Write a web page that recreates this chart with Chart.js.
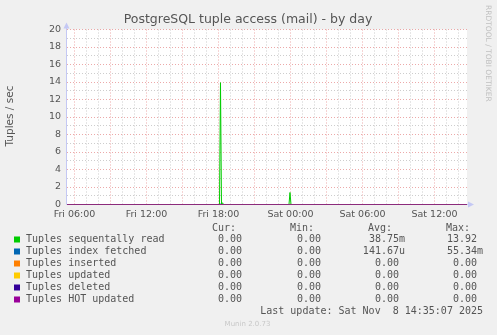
<!DOCTYPE html>
<html>
<head>
<meta charset="utf-8">
<script src="https://cdn.jsdelivr.net/npm/chart.js@4/dist/chart.umd.min.js"></script>
<style>
  html, body { margin: 0; padding: 0; background: #f0f0f0; }
</style>
</head>
<body>
<canvas id="myChart" width="497" height="335"></canvas>
<script>
// time is in hours counted from Fri 00:00
var xStart = 5.375;
var xEnd = 38.71;

var seriesNames = ["Tuples sequentally read", "Tuples index fetched", "Tuples inserted",
                   "Tuples updated", "Tuples deleted", "Tuples HOT updated"];
var seriesColors = ["#00cc00", "#0066b3", "#ff8000", "#ffcc00", "#330099", "#990099"];

var seqReadHours  = [5.375, 18.083, 18.167, 18.25, 18.333, 18.417, 23.875, 23.958, 24.042, 38.71];
var seqReadValues = [0,     0,      13.92,  0,     0.2,    0,      0,      1.37,   0,      0];

var idxFetchHours  = [5.375, 18.083, 18.167, 18.25, 38.71];
var idxFetchValues = [0,     0,      0.0553, 0,     0];

var zeroHours  = [5.375, 38.71];
var zeroValues = [0, 0];

var curCol = ["0.00", "0.00", "0.00", "0.00", "0.00", "0.00"];
var minCol = ["0.00", "0.00", "0.00", "0.00", "0.00", "0.00"];
var avgCol = ["38.75m", "141.67u", "0.00 ", "0.00 ", "0.00 ", "0.00 "];
var maxCol = ["13.92 ", "55.34m", "0.00 ", "0.00 ", "0.00 ", "0.00 "];

var yTicks = [0, 2, 4, 6, 8, 10, 12, 14, 16, 18, 20];

function pts(hours, values) {
  var out = [];
  for (var i = 0; i < hours.length; i++) out.push({x: hours[i], y: values[i]});
  return out;
}

var seriesData = [
  pts(seqReadHours, seqReadValues),
  pts(idxFetchHours, idxFetchValues),
  pts(zeroHours, zeroValues),
  pts(zeroHours, zeroValues),
  pts(zeroHours, zeroValues),
  pts(zeroHours, zeroValues)
];

var datasets = [];
for (var i = 0; i < seriesNames.length; i++) {
  datasets.push({
    label: seriesNames[i],
    data: seriesData[i],
    borderColor: seriesColors[i],
    backgroundColor: seriesColors[i],
    borderWidth: 1,
    pointRadius: 0,
    fill: false,
    order: seriesNames.length - i
  });
}

var majorGrid = "rgba(230,140,140,0.75)";
var minorGrid = "rgba(200,200,200,0.9)";
var axisColor = "#c4c8f4";

function hourLabel(h) {
  var day = h < 24 ? "Fri" : "Sat";
  var hh = h % 24;
  return day + " " + (hh < 10 ? "0" : "") + hh + ":00";
}

var munin = {
  id: "munin",
  beforeDraw: function(chart) {
    var c = chart.ctx, a = chart.chartArea;
    c.save();
    c.fillStyle = "#f0f0f0";
    c.fillRect(0, 0, chart.width, chart.height);
    c.fillStyle = "#ffffff";
    c.fillRect(a.left, a.top, a.right - a.left, a.bottom - a.top);
    c.restore();
  },
  beforeDatasetsDraw: function(chart) {
    var c = chart.ctx, a = chart.chartArea;
    var x0 = Math.round(a.left) - 0.5, y0 = Math.round(a.bottom) - 0.5;
    c.save();
    c.strokeStyle = axisColor;
    c.fillStyle = axisColor;
    c.lineWidth = 1;
    c.beginPath();
    c.moveTo(x0, y0); c.lineTo(x0, a.top - 2);
    c.moveTo(x0, y0); c.lineTo(a.right + 2, y0);
    c.stroke();
    // arrows
    c.beginPath();
    c.moveTo(x0 - 3, a.top - 1); c.lineTo(x0 + 3, a.top - 1); c.lineTo(x0, a.top - 7); c.closePath();
    c.fill();
    c.beginPath();
    c.moveTo(a.right + 1, y0 - 3); c.lineTo(a.right + 1, y0 + 3); c.lineTo(a.right + 7, y0); c.closePath();
    c.fill();
    c.restore();
  },
  afterDraw: function(chart) {
    var c = chart.ctx;
    c.save();
    c.textBaseline = "middle";
    // title
    c.fillStyle = "#555555";
    c.font = "12.5px 'DejaVu Sans'";
    c.textAlign = "center";
    c.fillText("PostgreSQL tuple access (mail) - by day", 248, 20);
    // y axis title
    c.save();
    c.translate(10, 116);
    c.rotate(-Math.PI / 2);
    c.font = "10.5px 'DejaVu Sans'";
    c.fillText("Tuples / sec", 0, 0);
    c.restore();
    // vertical watermark
    c.save();
    c.translate(488, 5);
    c.rotate(Math.PI / 2);
    c.textAlign = "left";
    c.fillStyle = "#c0c0c0";
    c.font = "7.5px 'DejaVu Sans'";
    c.fillText("RRDTOOL / TOBI OETIKER", 0, 0);
    c.restore();
    // legend table
    c.font = "10px 'DejaVu Sans Mono'";
    c.fillStyle = "#555555";
    c.textAlign = "right";
    var hy = 228;
    c.fillText("Cur:", 236, hy);
    c.fillText("Min:", 314, hy);
    c.fillText("Avg:", 392, hy);
    c.fillText("Max:", 470, hy);
    for (var i = 0; i < seriesNames.length; i++) {
      var y = 239.5 + i * 12;
      c.fillStyle = seriesColors[i];
      c.fillRect(14, y - 3, 6, 6);
      c.fillStyle = "#555555";
      c.textAlign = "left";
      c.fillText(seriesNames[i], 26, y);
      c.textAlign = "right";
      c.fillText(curCol[i], 242, y);
      c.fillText(minCol[i], 321, y);
      c.fillText(avgCol[i], 405, y);
      c.fillText(maxCol[i], 483, y);
    }
    c.fillText("Last update: Sat Nov  8 14:35:07 2025", 483, 311.5);
    c.textAlign = "center";
    c.fillStyle = "#c8c8c8";
    c.font = "7px 'DejaVu Sans'";
    c.fillText("Munin 2.0.73", 247.5, 324);
    c.restore();
  }
};

var ctx = document.getElementById("myChart");
var myChart = new Chart(ctx, {
  type: "line",
  data: { datasets: datasets },
  plugins: [munin],
  options: {
    responsive: false,
    animation: false,
    layout: { padding: { left: 0, top: 29.5, right: 30, bottom: 110.5 } },
    plugins: {
      legend: { display: false },
      title: { display: false },
      tooltip: { enabled: false }
    },
    elements: { line: { tension: 0 } },
    scales: {
      x: {
        type: "linear",
        min: xStart,
        max: xEnd,
        afterBuildTicks: function(scale) {
          var t = [];
          for (var h = 6; h <= 38; h++) t.push({ value: h });
          scale.ticks = t;
        },
        afterFit: function(scale) { scale.height = 20; },
        grid: {
          drawTicks: false,
          lineWidth: 1,
          color: function(c) {
            if (!c.tick) return minorGrid;
            return c.tick.value % 3 === 0 ? majorGrid : minorGrid;
          },
          borderDash: [1, 2]
        },
        border: { display: false, dash: [1, 2] },
        ticks: {
          autoSkip: false,
          maxRotation: 0,
          padding: 4,
          color: "#555555",
          font: { family: "DejaVu Sans", size: 9.5 },
          callback: function(v) { return v % 6 === 0 ? hourLabel(v) : ""; }
        }
      },
      y: {
        min: 0,
        max: 20,
        afterBuildTicks: function(scale) {
          var t = [];
          for (var v = 0; v <= 20; v++) t.push({ value: v });
          scale.ticks = t;
        },
        afterFit: function(scale) { scale.width = 67; },
        grid: {
          drawTicks: false,
          lineWidth: 1,
          color: function(c) {
            if (!c.tick) return minorGrid;
            return c.tick.value % 2 === 0 ? majorGrid : minorGrid;
          },
          borderDash: [1, 2]
        },
        border: { display: false, dash: [1, 2] },
        ticks: {
          autoSkip: false,
          padding: 6,
          color: "#555555",
          font: { family: "DejaVu Sans", size: 9.5 },
          callback: function(v) { return yTicks.indexOf(v) >= 0 ? String(v) : ""; }
        }
      }
    }
  }
});
</script>
</body>
</html>
